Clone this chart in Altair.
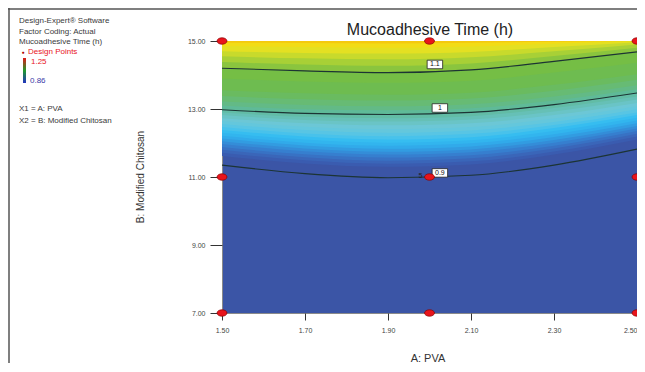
import altair as alt
import pandas as pd

# ---------------- data ----------------
X = [1.5, 1.7, 1.9, 2.1, 2.3, 2.5]          # A: PVA positions where curves were read

# contour lines (B: Modified Chitosan value at each X)
C09 = [11.35, 11.10, 10.98, 11.05, 11.35, 11.82]
C10 = [12.98, 12.87, 12.84, 12.90, 13.13, 13.47]
C11 = [14.20, 14.12, 14.07, 14.15, 14.40, 14.68]

# lower edges of the colour bands read from the shading (bottom to top)
E00 = [11.62, 11.40, 11.30, 11.37, 11.66, 12.10]
E00b = [11.71, 11.49, 11.39, 11.46, 11.75, 12.19]
E01 = [11.80, 11.58, 11.48, 11.55, 11.84, 12.27]
E01b = [11.88, 11.67, 11.57, 11.64, 11.92, 12.35]
E02 = [11.97, 11.76, 11.66, 11.73, 12.01, 12.43]
E02b = [12.05, 11.84, 11.74, 11.81, 12.09, 12.50]
E03 = [12.13, 11.93, 11.83, 11.90, 12.18, 12.58]
E03b = [12.21, 12.01, 11.92, 11.99, 12.26, 12.66]
E04 = [12.30, 12.10, 12.01, 12.08, 12.35, 12.74]
E04b = [12.38, 12.19, 12.10, 12.17, 12.44, 12.82]
E05 = [12.47, 12.28, 12.20, 12.27, 12.53, 12.90]
E05b = [12.56, 12.38, 12.30, 12.37, 12.62, 12.99]
E06 = [12.65, 12.48, 12.41, 12.47, 12.72, 13.08]
E06b = [12.73, 12.58, 12.52, 12.58, 12.82, 13.18]
E07 = [12.82, 12.68, 12.63, 12.69, 12.93, 13.28]
E07b = [12.90, 12.77, 12.73, 12.79, 13.03, 13.37]
E08 = C10
E08b = [13.10, 12.99, 12.96, 13.02, 13.25, 13.58]
E09 = [13.22, 13.12, 13.08, 13.14, 13.37, 13.70]
E09b = [13.38, 13.29, 13.25, 13.31, 13.54, 13.86]
E10 = [13.55, 13.46, 13.42, 13.48, 13.71, 14.02]
E11 = [13.90, 13.81, 13.77, 13.83, 14.07, 14.36]
E12 = C11
E13 = [14.38, 14.31, 14.27, 14.34, 14.56, 14.80]
E14 = [14.55, 14.49, 14.46, 14.52, 14.70, 14.90]
E15 = [14.70, 14.65, 14.63, 14.68, 14.82, 14.96]
E16 = [14.85, 14.82, 14.80, 14.84, 14.92, 15.00]
E17 = [14.95, 14.94, 14.93, 14.95, 14.98, 15.00]

BAND_EDGES = [E00, E00b, E01, E01b, E02, E02b, E03, E03b, E04, E04b,
              E05, E05b, E06, E06b, E07, E07b, E08, E08b, E09, E09b,
              E10, E11, E12, E13, E14, E15, E16, E17]
BAND_COLORS = ["#3a5cb0", "#3a66b9", "#3872c4", "#367fcf", "#348dd8", "#329ce1",
               "#31aaea", "#32b5ee", "#36bdf0", "#48c2eb", "#58c5e4", "#64c7dc",
               "#6cc7d6", "#6ac4c6", "#66c0b6", "#62bca6", "#5fba98", "#63ba86",
               "#67bb74", "#6abb60", "#6ebc50", "#75be45", "#8ac53e", "#a8d036",
               "#c8da2c", "#e4e022", "#f2dc16", "#f5c90e"]
BASE_COLOR = "#3b55a6"

# design points
PTS_X = [1.5, 1.5, 1.5, 2.0, 2.0, 2.0, 2.5, 2.5, 2.5]
PTS_Y = [7, 11, 15, 7, 11, 15, 7, 11, 15]

# contour labels
LAB_T = ["1.1", "1", "0.9"]
LAB_X = [2.013, 2.025, 2.025]
LAB_Y = [14.31, 13.03, 11.12]

X_TICKS = [1.5, 1.7, 1.9, 2.1, 2.3, 2.5]
Y_TICKS = [7, 9, 11, 13, 15]

# ---------------- chart ----------------
FONT = "Liberation Sans"
xs = alt.Scale(domain=[1.5, 2.5], nice=False, zero=False)
ys = alt.Scale(domain=[7, 15], nice=False, zero=False)
x_axis = alt.Axis(values=X_TICKS, format=".2f", title=None, grid=False, domain=False,
                  tickSize=7, tickColor="#333", labelPadding=6, labelFontSize=7,
                  labelColor="#444", labelFont=FONT, labelFlush=False,
                  labelAlign={"condition": {"test": "datum.value >= 2.49", "value": "right"},
                              "value": "center"})
y_axis = alt.Axis(values=Y_TICKS, format=".2f", title=None, grid=False, domain=False,
                  tickSize=12, tickColor="#333", labelPadding=5, labelFontSize=7,
                  labelColor="#444", labelFont=FONT)


def xenc(f="x"):
    return alt.X(f"{f}:Q", scale=xs, axis=x_axis)


def yenc(f="y"):
    return alt.Y(f"{f}:Q", scale=ys, axis=y_axis)


layers = []
for edge, col in zip(BAND_EDGES, BAND_COLORS):
    df = pd.DataFrame({"x": X, "y": edge, "top": [15] * len(X)})
    layers.append(
        alt.Chart(df).mark_area(color=col, interpolate="monotone", clip=True)
        .encode(x=xenc(), y=yenc(), y2="top")
    )

rows = []
for name, arr in [("0.9", C09), ("1", C10), ("1.1", C11)]:
    for xv, yv in zip(X, arr):
        rows.append({"x": xv, "y": yv, "level": name})
lines = alt.Chart(pd.DataFrame(rows)).mark_line(
    color="#1c3434", strokeWidth=1.1, interpolate="monotone", clip=True
).encode(x=xenc(), y=yenc(), detail="level:N")
layers.append(lines)

labs = pd.DataFrame({"x": LAB_X, "y": LAB_Y, "t": LAB_T})
box_wide = "M-1,-0.55L1,-0.55L1,0.55L-1,0.55Z"
lab_boxes = alt.Chart(labs).mark_point(
    shape=box_wide, filled=True, fill="white", stroke="#222", strokeWidth=0.8,
    opacity=1, size=240
).encode(x=xenc(), y=yenc())
lab_text = alt.Chart(labs).mark_text(
    font=FONT, fontSize=7, color="#111", baseline="middle", align="center"
).encode(x=xenc(), y=yenc(), text="t:N")
layers += [lab_boxes, lab_text]

pts = pd.DataFrame({"x": PTS_X, "y": PTS_Y})
ellipse = "M-1,0A1,0.65 0 1,1 1,0A1,0.65 0 1,1 -1,0Z"
points = alt.Chart(pts).mark_point(
    shape=ellipse, filled=True, fill="#e8141c", stroke="#8a0000", strokeWidth=0.7,
    opacity=1, size=100, clip=False
).encode(x=xenc(), y=yenc())
layers.append(points)

five = alt.Chart(pd.DataFrame({"x": [2.0], "y": [11.0]})).mark_text(
    text="5", font=FONT, fontSize=7, color="#222", dx=-9, dy=-1
).encode(x=xenc(), y=yenc())
layers.append(five)

one = pd.DataFrame({"a": [0]})


def txt(s, x, y, size=8, color="#3a3a3a", align="left", angle=0, baseline="middle"):
    return alt.Chart(one).mark_text(
        text=s, font=FONT, fontSize=size, color=color, align=align,
        baseline=baseline, angle=angle
    ).encode(x=alt.value(x), y=alt.value(y))


# title and axis titles
layers.append(txt("Mucoadhesive Time (h)", 208, -6, size=16, color="#222",
                  align="center", baseline="alphabetic"))
layers.append(txt("B: Modified Chitosan", -81, 136, size=10, color="#333",
                  align="center", angle=270))
layers.append(txt("A: PVA", 206, 318, size=11, color="#333", align="center"))

# left info panel
layers.append(txt("Design-Expert® Software", -203, -20))
layers.append(txt("Factor Coding: Actual", -203, -9))
layers.append(txt("Mucoadhesive Time (h)", -203, 1))
layers.append(txt("●", -199, 11, size=5, color="#b00000", align="center"))
layers.append(txt("Design Points", -194, 11, color="#e8141c"))
layers.append(txt("1.25", -191, 21, color="#e8141c"))
layers.append(txt("0.86", -192, 40, color="#3a3aa8"))
layers.append(txt("X1 = A: PVA", -203, 68))
layers.append(txt("X2 = B: Modified Chitosan", -203, 80))

cbar = alt.Chart(one).mark_rect(
    color=alt.Gradient(
        gradient="linear",
        stops=[alt.GradientStop(offset=0, color="#e01818"),
               alt.GradientStop(offset=0.5, color="#1f9a2a"),
               alt.GradientStop(offset=1, color="#2233c0")],
        x1=0, x2=0, y1=0, y2=1)
).encode(x=alt.value(-199), x2=alt.value(-196), y=alt.value(17), y2=alt.value(42))
layers.append(cbar)

# outer frame lines
layers.append(alt.Chart(one).mark_rule(color="#555", strokeWidth=1.5).encode(
    x=alt.value(-213), y=alt.value(-33), y2=alt.value(330)))
layers.append(alt.Chart(one).mark_rule(color="#555", strokeWidth=1.5).encode(
    x=alt.value(-214), x2=alt.value(420), y=alt.value(-32)))

chart = alt.layer(*layers).properties(
    width=415, height=272,
    autosize=alt.AutoSizeParams(type="none"),
    padding={"left": 214, "top": 33, "right": 0, "bottom": 50},
    background="white",
).configure_view(fill=BASE_COLOR, stroke="#8a8a8a", strokeWidth=1)

chart.save("out.html", embed_options={"renderer": "svg", "actions": False})
